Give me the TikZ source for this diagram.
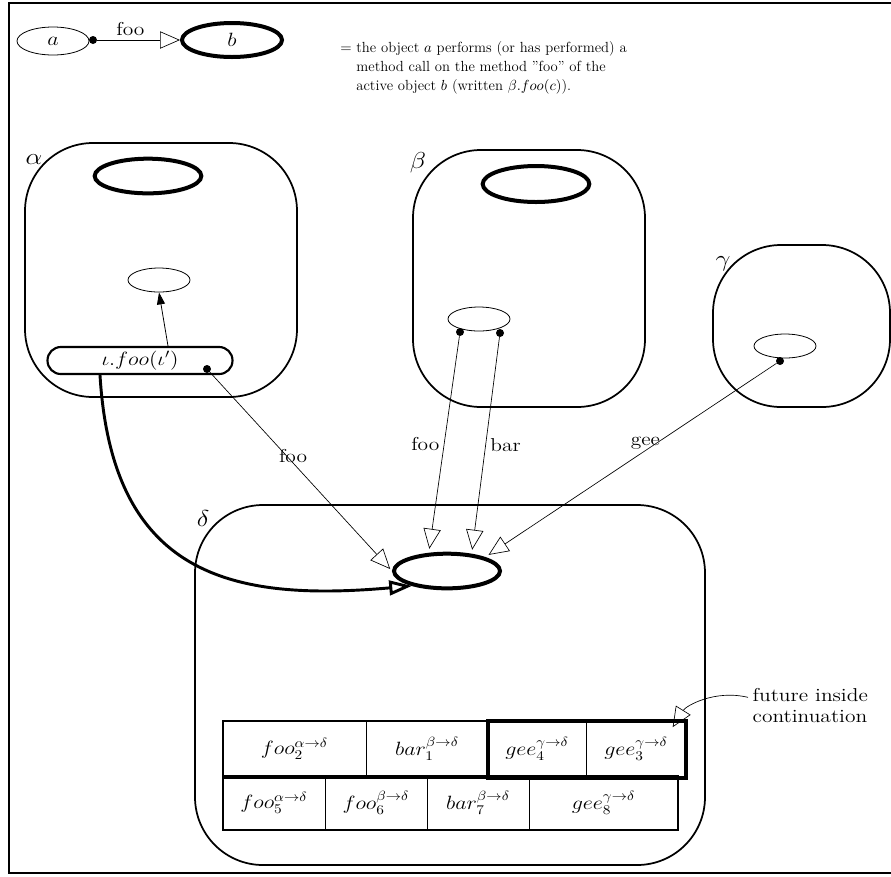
\documentclass[tikz,border=0pt]{standalone}
\usepackage{amsmath}
\usepackage{tikz}
\usetikzlibrary{arrows.meta, positioning, shapes.geometric}

% labels in the figure are set a little wide
\newcommand{\wider}[1]{\scalebox{1.15}[1]{#1}}

\begin{document}
\begin{tikzpicture}[
    x=0.75pt, y=-0.75pt,
    actor/.style={draw, rounded corners=51pt, line width=1.3pt, inner sep=0pt},
    obj/.style={draw, ellipse, line width=0.6pt, inner sep=0pt,
                minimum width=46.5pt, minimum height=18pt},
    aobj/.style={obj, line width=3pt, minimum width=80pt, minimum height=26pt},
    req/.style={draw, rounded corners=10pt, line width=1.6pt, inner sep=0pt,
                minimum width=138.75pt, minimum height=20.25pt},
    pin/.style={circle, fill, inner sep=0pt, minimum size=6pt},
    big/.style={font=\fontsize{14}{15.75}\selectfont},
    actorlab/.style={font=\fontsize{16}{18}\selectfont, inner sep=0pt},
    cell/.style={draw, big, line width=0.5pt, inner sep=0pt, outer sep=0pt},
    call/.style={-{Triangle[open, length=15pt, width=13pt]}, line width=0.5pt},
    ret/.style={-{Triangle[length=9pt, width=6pt]}, line width=0.6pt},
    flow/.style={-{Triangle[open, length=17pt, width=11pt]}, line width=2.2pt},
    note/.style={align=left, font=\fontsize{11}{14.25}\selectfont},
  ]

  \useasboundingbox (0,0) rectangle (891,876);
  \draw[line width=1.2pt] (891,3) -- (9,3) -- (9,873) -- (891,873);

  % legend
  \node[obj, big, minimum width=54pt, minimum height=21pt] (la) at (53,41) {\wider{$a$}};
  \node[aobj, big, minimum width=75pt, minimum height=25.5pt] (lb) at (232,40) {\wider{$b$}};
  \node[pin] (ldot) at (93,40) {};
  \draw[call] (ldot) -- (lb) node[big, pos=0.4, above=0pt] {\wider{foo}};
  \node[note, anchor=north west, inner sep=0pt] (legtext) at (340,41)
    {$=$ the object $a$ performs (or has performed) a\\
     \hphantom{$=$} method call on the method ''foo'' of the\\
     \hphantom{$=$} active object $b$ (written $\beta.foo(c)$).};

  % alpha
  \node[actor, minimum width=204pt, minimum height=190.5pt] (alpha) at (161,270) {};
  \node[actorlab] (alab) at (34,160) {\wider{$\alpha$}};
  \node[aobj] (atop) at (148,176) {};
  \node[obj] (ain) at (159,280) {};
  \node[req, big] (areq) at (140,360.5) {\wider{$\iota.foo(\iota')$}};
  \node[pin] (adot) at (207,369) {};

  % beta
  \node[actor, minimum width=174pt, minimum height=192.75pt] (beta) at (529,278.5) {};
  \node[actorlab] (blab) at (418,163) {\wider{$\beta$}};
  \node[aobj, minimum height=27pt] (btop) at (536,184) {};
  \node[obj] (bin) at (479,319) {};
  \node[pin] (bdot1) at (460,332) {};
  \node[pin] (bdot2) at (500,333) {};

  % gamma
  \node[actor, minimum width=132.75pt, minimum height=121.5pt] (gamma) at (801.5,326) {};
  \node[actorlab] (glab) at (723,264) {\wider{$\gamma$}};
  \node[obj] (gin) at (785,346) {};
  \node[pin] (gdot) at (780,361) {};

  % delta
  \node[actor, minimum width=382.5pt, minimum height=270pt] (delta) at (450,685) {};
  \node[actorlab] (dlab) at (203,518) {\wider{$\delta$}};
  \node[aobj, minimum width=79.5pt, minimum height=26pt] (dobj) at (447,571) {};

  % request queue
  \node[cell, anchor=west, minimum width=107.25pt, minimum height=42.75pt] (c2) at (223,749) {\wider{$foo_2^{\alpha\rightarrow\delta}$}};
  \node[cell, right=0pt of c2, minimum width=91.5pt, minimum height=42.75pt] (c1) {\wider{$bar_1^{\beta\rightarrow\delta}$}};
  \node[cell, right=0pt of c1, minimum width=73.5pt, minimum height=42.75pt] (c4) {\wider{$gee_4^{\gamma\rightarrow\delta}$}};
  \node[cell, right=0pt of c4, minimum width=75pt, minimum height=42.75pt] (c3) {\wider{$gee_3^{\gamma\rightarrow\delta}$}};
  \node[cell, anchor=west, minimum width=76.5pt, minimum height=40.5pt] (c5) at (223,803) {\wider{$foo_5^{\alpha\rightarrow\delta}$}};
  \node[cell, right=0pt of c5, minimum width=76.5pt, minimum height=40.5pt] (c6) {\wider{$foo_6^{\beta\rightarrow\delta}$}};
  \node[cell, right=0pt of c6, minimum width=76.5pt, minimum height=40.5pt] (c7) {\wider{$bar_7^{\beta\rightarrow\delta}$}};
  \node[cell, right=0pt of c7, minimum width=111.75pt, minimum height=40.5pt] (c8) {\wider{$gee_8^{\gamma\rightarrow\delta}$}};
  \draw[line width=1.5pt] (c2.north west) rectangle (c3.south east);
  \draw[line width=1.5pt] (c5.north west) rectangle (c8.south east);
  \draw[line width=3pt] (c4.north west) rectangle (c3.south east);

  \node[big, align=left, anchor=north west] (fut) at (748,684) {\wider{future inside}\\\wider{continuation}};

  % calls
  \draw[ret] ([xshift=21pt]areq.north) -- (ain.south);
  \draw[flow] ([xshift=-30pt]areq.south) .. controls (112,575) and (230,602) .. (dobj.203);
  \draw[call, shorten >=2pt] (adot) -- (dobj.west) node[big, pos=0.42, xshift=5pt] {\wider{foo}};
  \draw[call, shorten >=3pt] (bdot1) -- (dobj.135) node[big, pos=0.5, left] {\wider{foo}};
  \draw[call, shorten >=3pt] (bdot2) -- (dobj.35) node[big, pos=0.5, right] {\wider{bar}};
  \draw[call, shorten >=3pt] (gdot) -- (dobj.20) node[big, pos=0.45, above, inner sep=1pt] {\wider{gee}};
  \draw[call] ([yshift=-10pt]fut.north west) .. controls +(-25pt,6pt) and +(10pt,16pt) .. ([xshift=-10pt, yshift=-5pt]c3.north east);

\end{tikzpicture}
\end{document}
